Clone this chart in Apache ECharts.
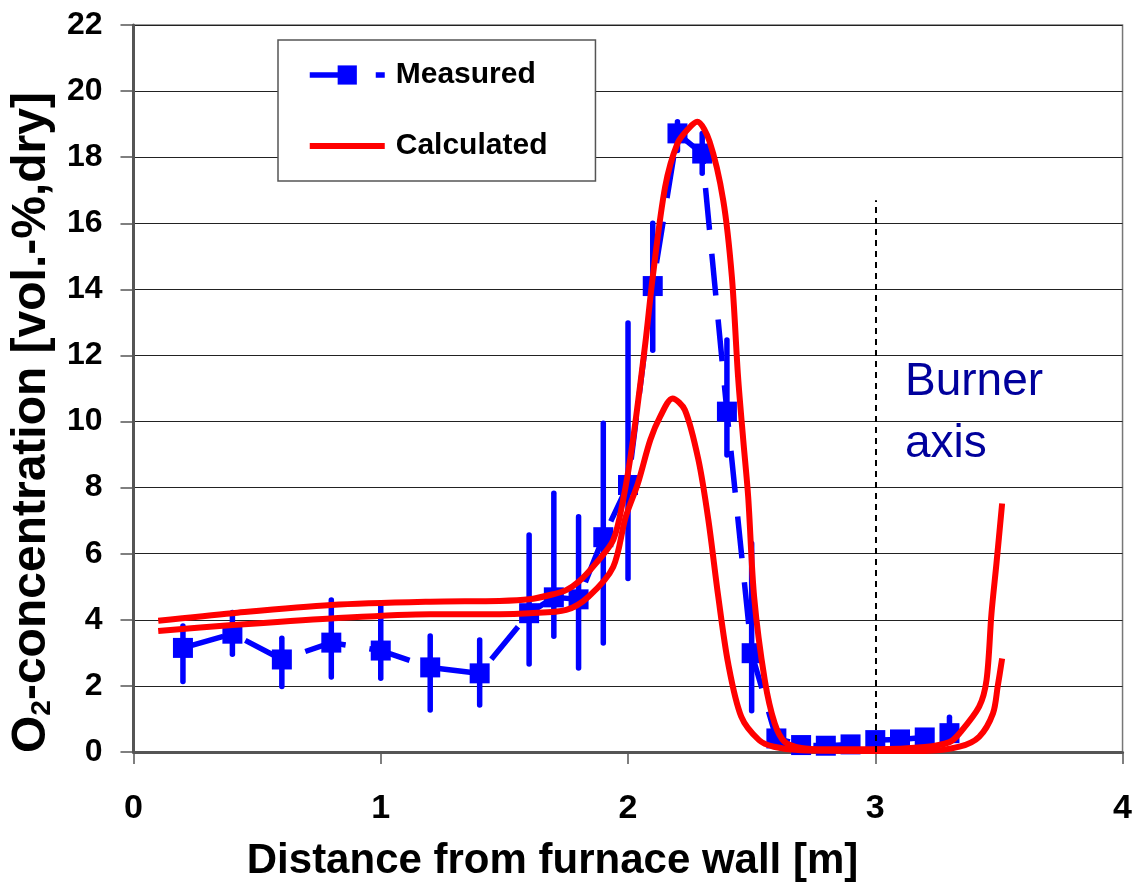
<!DOCTYPE html>
<html>
<head>
<meta charset="utf-8">
<script src="https://cdn.jsdelivr.net/npm/echarts@6/dist/echarts.min.js"></script>
<style>
  html, body { margin: 0; padding: 0; background: #fff; }
  #chart { width: 1135px; height: 889px; }
</style>
</head>
<body>
<div id="chart"></div>
<script>
// measured O2 points with error range
const measX = [0.2, 0.4, 0.6, 0.8, 1.0, 1.2, 1.4, 1.6, 1.7, 1.8, 1.9, 2.0, 2.1, 2.2, 2.3, 2.4, 2.5, 2.6, 2.7, 2.8, 2.9, 3.0, 3.1, 3.2, 3.3];
const measY = [3.15, 3.58, 2.8, 3.31, 3.07, 2.56, 2.38, 4.2, 4.68, 4.62, 6.5, 8.08, 14.1, 18.72, 18.11, 10.3, 2.99, 0.41, 0.21, 0.19, 0.23, 0.36, 0.38, 0.44, 0.57];
const errLow = [2.13, 2.96, 1.98, 2.27, 2.23, 1.27, 1.42, 2.66, 3.5, 2.54, 3.3, 5.25, 12.16, 18.2, 17.51, 8.99, 1.25, 0.3, 0.21, 0.19, 0.23, 0.36, 0.38, 0.44, 0.45];
const errHigh = [3.81, 4.22, 3.44, 4.6, 4.52, 3.51, 3.39, 6.57, 7.83, 7.12, 9.95, 12.98, 16.0, 19.07, 18.72, 12.47, 6.31, 0.55, 0.21, 0.19, 0.23, 0.36, 0.38, 0.44, 1.05];

// calculated profiles (two curves)
const calcAX = [0.1, 0.4, 0.8, 1.2, 1.48, 1.6, 1.7, 1.75, 1.8, 1.87, 1.94, 1.98, 2.02, 2.07, 2.1, 2.15, 2.2, 2.245, 2.28, 2.33, 2.385, 2.42, 2.445, 2.466, 2.486, 2.51, 2.553, 2.593, 2.633, 2.7, 2.8, 3.0, 3.2, 3.3, 3.34, 3.42, 3.45, 3.47, 3.49, 3.513];
const calcAY = [3.97, 4.2, 4.45, 4.55, 4.57, 4.62, 4.78, 4.9, 5.15, 5.71, 6.41, 7.62, 9.44, 12.37, 14.38, 17.1, 18.42, 18.87, 19.07, 18.47, 16.7, 14.38, 11.36, 9.44, 7.72, 4.7, 2.18, 0.87, 0.31, 0.12, 0.08, 0.08, 0.15, 0.3, 0.56, 1.37, 2.18, 4.2, 5.7, 7.52];
const calcBX = [0.1, 0.4, 0.8, 1.2, 1.48, 1.6, 1.75, 1.84, 1.94, 1.99, 2.04, 2.09, 2.13, 2.18, 2.23, 2.285, 2.325, 2.365, 2.405, 2.458, 2.53, 2.59, 2.7, 3.0, 3.2, 3.34, 3.42, 3.476, 3.495, 3.513];
const calcBY = [3.66, 3.84, 4.04, 4.17, 4.17, 4.2, 4.3, 4.7, 5.6, 7.1, 8.13, 9.44, 10.15, 10.7, 10.35, 8.83, 7.02, 4.7, 2.68, 1.07, 0.36, 0.16, 0.05, 0.03, 0.03, 0.16, 0.46, 1.17, 1.98, 2.83];

// burner axis marker
const burnerX = 3;
const burnerTop = 16.7;

const FONT = '"Liberation Sans", Arial, sans-serif';
const BLUE = '#0000ff';
const RED = '#ff0000';

const measData = measX.map((x, i) => [x, measY[i]]);
const errData = measX.map((x, i) => [x, errLow[i], errHigh[i]]);
const calcA = calcAX.map((x, i) => [x, calcAY[i]]);
const calcB = calcBX.map((x, i) => [x, calcBY[i]]);

const chart = echarts.init(document.getElementById('chart'));
chart.setOption({
  animation: false,
  backgroundColor: '#fff',
  grid: {
    left: 132, right: 8, top: 25, bottom: 137,
    show: true, borderColor: '#777', borderWidth: 1.5
  },
  legend: {
    left: 278, top: 40,
    orient: 'vertical',
    padding: [19, 48, 19, 29],
    itemGap: 39,
    itemWidth: 75,
    itemHeight: 24,
    backgroundColor: '#fff',
    borderColor: '#555',
    borderWidth: 1.5,
    data: [
      { name: 'Measured', lineStyle: { width: 5.5 } },
      { name: 'Calculated', icon: 'path://M0,0 L75,0 L75,6 L0,6 Z' }
    ],
    textStyle: { fontFamily: FONT, fontWeight: 'bold', fontSize: 30, color: '#000', lineHeight: 32, padding: [0, 0, 0, 6] }
  },
  xAxis: {
    type: 'value', min: 0, max: 4, interval: 1,
    name: 'Distance from furnace wall [m]',
    nameLocation: 'middle', nameGap: 88,
    nameTextStyle: { fontFamily: FONT, fontWeight: 'bold', fontSize: 42, color: '#000', padding: [0, 151, 0, 0] },
    axisLine: { show: true, lineStyle: { color: '#555', width: 3 } },
    axisTick: { show: true, length: 12, lineStyle: { color: '#555', width: 1.5 } },
    axisLabel: { fontFamily: FONT, fontWeight: 'bold', fontSize: 34, color: '#000', margin: 40 },
    splitLine: { show: false }
  },
  yAxis: {
    type: 'value', min: 0, max: 22, interval: 2,
    name: '{a|O}{s|2}{a|-concentration [vol.-%,dry]}',
    nameLocation: 'middle', nameGap: 69,
    nameTextStyle: {
      padding: [0, 68, 0, 0],
      rich: {
        a: { fontFamily: FONT, fontWeight: 'bold', fontSize: 48, color: '#000', verticalAlign: 'bottom' },
        s: { fontFamily: FONT, fontWeight: 'bold', fontSize: 28, color: '#000', verticalAlign: 'bottom' }
      }
    },
    axisLine: { show: true, lineStyle: { color: '#555', width: 3 } },
    axisTick: { show: true, length: 13, lineStyle: { color: '#555', width: 1.5 } },
    axisLabel: { fontFamily: FONT, fontWeight: 'bold', fontSize: 32, color: '#000', margin: 31 },
    splitLine: { show: true, lineStyle: { color: '#222', width: 1.2 } }
  },
  series: [
    {
      // error bars
      type: 'custom',
      name: 'err',
      z: 2,
      data: errData,
      encode: { x: 0, y: [1, 2] },
      renderItem: function (params, api) {
        const p1 = api.coord([api.value(0), api.value(1)]);
        const p2 = api.coord([api.value(0), api.value(2)]);
        return {
          type: 'line',
          shape: { x1: p1[0], y1: p1[1], x2: p2[0], y2: p2[1] },
          style: { stroke: BLUE, lineWidth: 5.5, lineCap: 'round' }
        };
      },
      markLine: {
        silent: true,
        symbol: ['none', 'none'],
        label: { show: false },
        lineStyle: { color: '#000', type: [6, 5], width: 2 },
        data: [[{ coord: [burnerX, 0] }, { coord: [burnerX, burnerTop] }]]
      }
    },
    {
      name: 'Measured',
      type: 'line',
      z: 3,
      data: measData,
      symbol: 'rect',
      symbolSize: 20,
      itemStyle: { color: BLUE },
      lineStyle: { color: BLUE, width: 5.5, type: [42, 24] }
    },
    {
      name: 'Calculated',
      type: 'line',
      z: 4,
      data: calcA,
      showSymbol: false,
      symbol: 'none',
      smooth: 0.3,
      itemStyle: { color: RED },
      lineStyle: { color: RED, width: 6 }
    },
    {
      name: 'Calculated',
      type: 'line',
      z: 4,
      data: calcB,
      showSymbol: false,
      symbol: 'none',
      smooth: 0.3,
      itemStyle: { color: RED },
      lineStyle: { color: RED, width: 6 }
    }
  ],
  graphic: [
    {
      type: 'text',
      x: 905, y: 351,
      style: { text: 'Burner\naxis', font: '46px "Liberation Sans", Arial, sans-serif', fill: '#00009c', lineHeight: 62 }
    }
  ]
});
</script>
</body>
</html>
